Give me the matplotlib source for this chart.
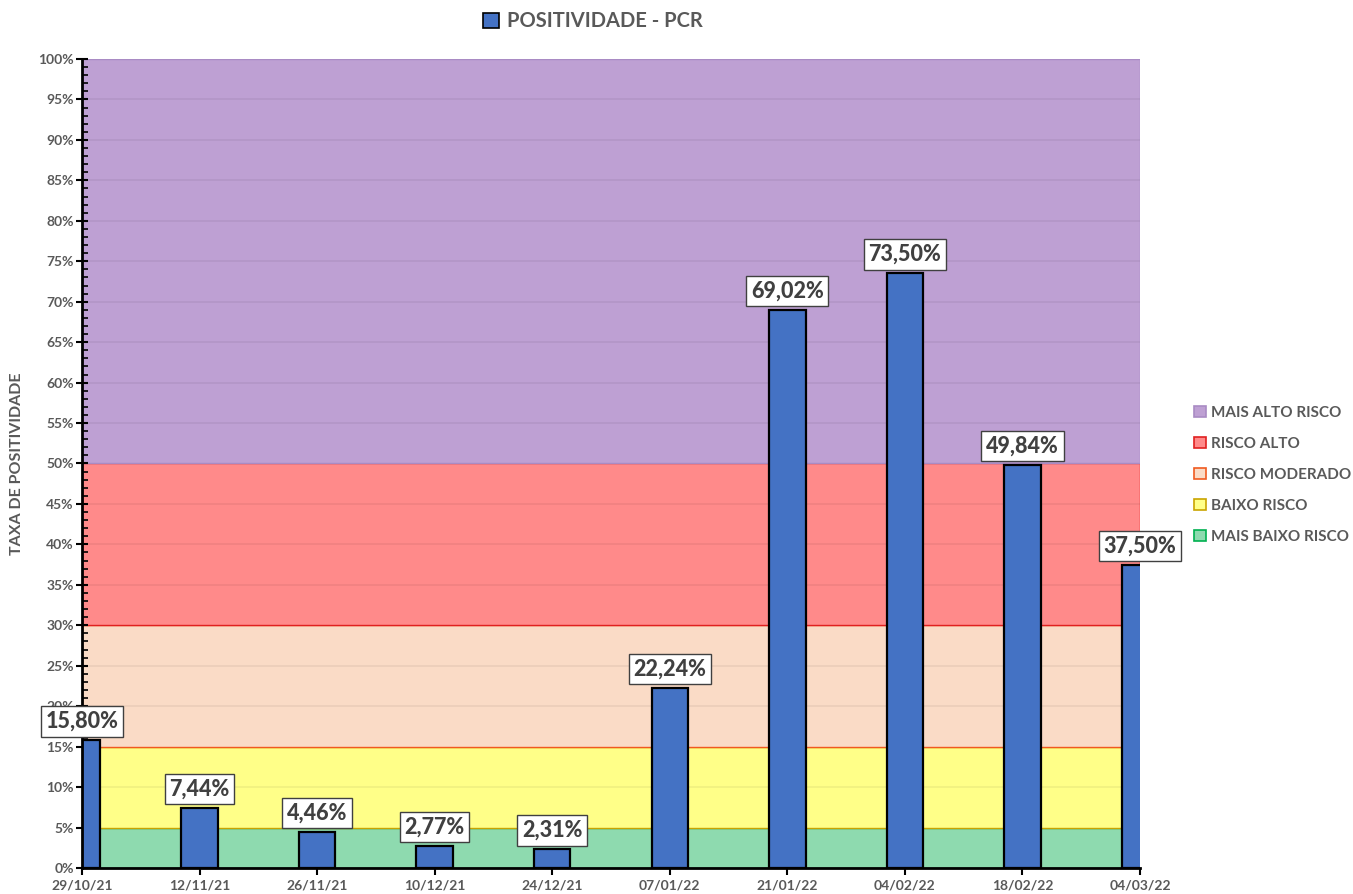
import matplotlib.pyplot as plt
from matplotlib.patches import Patch
from matplotlib.ticker import MultipleLocator, FuncFormatter

plt.rcParams['font.family'] = ['Lato', 'DejaVu Sans']
plt.rcParams['font.weight'] = 'bold'

datas = ['29/10/21', '12/11/21', '26/11/21', '10/12/21', '24/12/21',
         '07/01/22', '21/01/22', '04/02/22', '18/02/22', '04/03/22']
positividade = [15.80, 7.44, 4.46, 2.77, 2.31, 22.24, 69.02, 73.50, 49.84, 37.50]

faixas = ['MAIS BAIXO RISCO', 'BAIXO RISCO', 'RISCO MODERADO', 'RISCO ALTO', 'MAIS ALTO RISCO']
limites = [0, 5, 15, 30, 50, 100]
cores = ['#8EDAAF', '#FFFF88', '#FADBC6', '#FF8A8A', '#BEA0D3']
bordas = ['#00B050', '#C9A400', '#F05A20', '#E02020', '#A98BC4']

cinza = '#595959'

fig = plt.figure(figsize=(13.53, 8.94), dpi=100)
ax = fig.add_axes([0.0606, 0.0291, 0.7820, 0.9049])

# faixas de risco (desenhadas de baixo para cima)
for i in range(len(faixas)):
    ax.axhspan(limites[i], limites[i + 1], facecolor=cores[i], edgecolor=bordas[i],
               lw=1.0, zorder=0)

# grade
for y in range(5, 100, 5):
    if y not in limites:
        ax.axhline(y, color=(0, 0, 0, 0.06), lw=1.2, zorder=1)

x = list(range(len(datas)))
barras = ax.bar(x, positividade, width=0.31, color='#4472C4', edgecolor='black',
                lw=1.6, zorder=3)

for xi, v in zip(x, positividade):
    ax.annotate(f'{v:.2f}%'.replace('.', ','), (xi, v), xytext=(0, 6),
                textcoords='offset points', ha='center', va='bottom',
                fontsize=15.5, fontweight='black', color='#404040', zorder=5,
                annotation_clip=False,
                bbox=dict(boxstyle='square,pad=0.22', fc='white', ec='#404040', lw=1.0))

ax.set_xlim(0, len(datas) - 1)
ax.set_ylim(0, 100)
ax.set_xticks(x)
ax.set_xticklabels(datas)
ax.yaxis.set_major_locator(MultipleLocator(5))
ax.yaxis.set_minor_locator(MultipleLocator(1))
ax.yaxis.set_major_formatter(FuncFormatter(lambda v, p: f'{v:.0f}%'))

ax.tick_params(axis='y', which='major', direction='inout', length=8, width=1.5,
               labelsize=10, labelcolor=cinza, pad=2)
ax.tick_params(axis='y', which='minor', direction='in', length=4, width=1.2)
ax.tick_params(axis='x', direction='out', length=5, width=1.5, labelsize=10,
               labelcolor=cinza, pad=3)
for lab in ax.get_xticklabels() + ax.get_yticklabels():
    lab.set_fontweight('bold')

for s in ['top', 'right']:
    ax.spines[s].set_visible(False)
ax.spines['left'].set_linewidth(2)
ax.spines['bottom'].set_linewidth(2)
ax.spines['left'].set_zorder(4)
ax.spines['bottom'].set_zorder(4)

ax.set_ylabel('TAXA DE POSITIVIDADE', fontsize=11.5, fontweight='bold', color=cinza, labelpad=10)

# legenda superior
leg1 = fig.legend(handles=[Patch(facecolor='#4472C4', edgecolor='black', lw=1.2)],
                  labels=['POSITIVIDADE - PCR'], loc='center', bbox_to_anchor=(0.438, 0.976),
                  frameon=False, fontsize=14.5, handlelength=0.8, handleheight=0.8,
                  handletextpad=0.4)
for t in leg1.get_texts():
    t.set_color(cinza)
    t.set_fontweight('bold')

# legenda das faixas
handles = [Patch(facecolor=cores[i], edgecolor=bordas[i], lw=1.2) for i in range(4, -1, -1)]
leg2 = fig.legend(handles=handles, labels=faixas[::-1], loc='upper left',
                  bbox_to_anchor=(0.878, 0.553), frameon=False, fontsize=11,
                  handlelength=0.8, handleheight=0.8, handletextpad=0.3,
                  labelspacing=1.1, borderaxespad=0)
for t in leg2.get_texts():
    t.set_color(cinza)
    t.set_fontweight('bold')

fig.savefig('out.png', dpi=100)
